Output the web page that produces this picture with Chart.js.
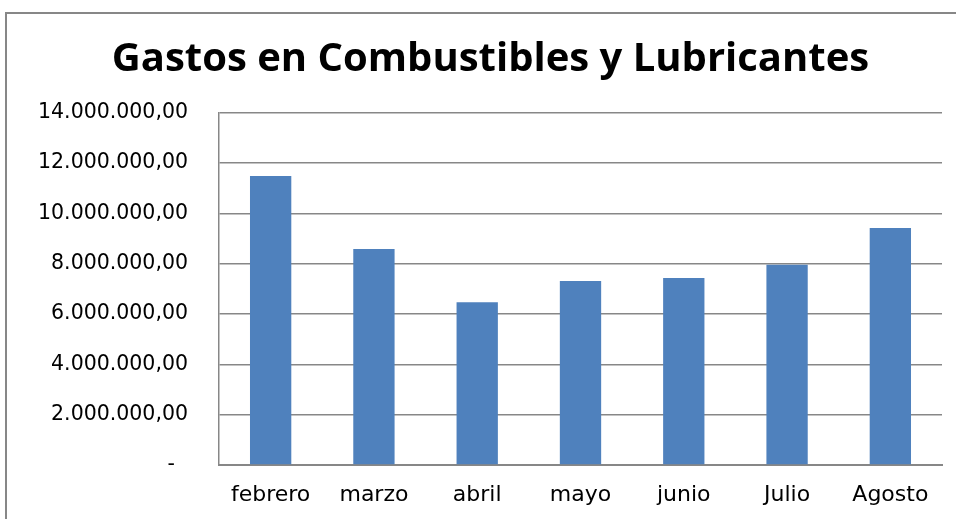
<!DOCTYPE html>
<html>
<head>
<meta charset="utf-8">
<script src="https://cdn.jsdelivr.net/npm/chart.js@4/dist/chart.umd.min.js"></script>
<style>
  html, body { margin: 0; padding: 0; background: #fff; }
  #wrap { width: 956px; height: 519px; }
</style>
</head>
<body>
<div id="wrap"><canvas id="gastosChart" width="956" height="519"></canvas></div>
<script>
// Datos
const meses = ['febrero', 'marzo', 'abril', 'mayo', 'junio', 'Julio', 'Agosto'];
const gastos = [11480000, 8580000, 6470000, 7310000, 7430000, 7960000, 9420000];
const yTicks = [0, 2000000, 4000000, 6000000, 8000000, 10000000, 12000000, 14000000];

// formato 14.000.000,00
function formatoMoneda(v) {
    if (v === 0) return '-  ';
    const entero = Math.round(v).toString().replace(/\B(?=(\d{3})+(?!\d))/g, '.');
    return entero + ',00';
}

// marco exterior gris (solo lados izquierdo y superior visibles)
const marco = {
    id: 'marco',
    beforeDraw(chart) {
        const c = chart.ctx;
        c.save();
        c.fillStyle = '#fff';
        c.fillRect(0, 0, chart.width, chart.height);
        c.strokeStyle = '#878787';
        c.lineWidth = 2;
        c.strokeRect(6, 13, 1200, 1200);
        c.restore();
    }
};

const ctx = document.getElementById('gastosChart').getContext('2d');
const chart = new Chart(ctx, {
    type: 'bar',
    data: {
        labels: meses,
        datasets: [{
            label: 'Gastos',
            data: gastos,
            backgroundColor: '#4F81BD',
            borderWidth: 0,
            categoryPercentage: 1,
            barPercentage: 0.4
        }]
    },
    options: {
        responsive: false,
        animation: false,
        layout: { padding: { left: 39, right: 14, top: 0, bottom: 0 } },
        plugins: {
            legend: { display: false },
            tooltip: { enabled: false },
            title: {
                display: true,
                text: 'Gastos en Combustibles y Lubricantes',
                color: '#000',
                font: { family: 'Open Sans', size: 40, weight: 'bold' },
                padding: { top: 36, bottom: 28.7 }
            }
        },
        scales: {
            x: {
                grid: { display: false, drawTicks: false },
                border: { display: true, color: '#878787', width: 2 },
                ticks: {
                    color: '#000',
                    padding: 17,
                    font: { family: 'DejaVu Sans', size: 22 }
                },
                afterFit(s) { s.height = 54; }
            },
            y: {
                min: 0,
                max: 14000000,
                afterBuildTicks(s) { s.ticks = yTicks.map(v => ({ value: v })); },
                grid: { color: '#878787', lineWidth: 1.5, drawTicks: false },
                border: { display: true, color: '#878787', width: 1.5 },
                ticks: {
                    color: '#000',
                    padding: 31,
                    font: { family: 'DejaVu Sans', size: 20.5 },
                    callback: v => formatoMoneda(v)
                },
                afterFit(s) { s.width = 180; }
            }
        }
    },
    plugins: [marco]
});
</script>
</body>
</html>
